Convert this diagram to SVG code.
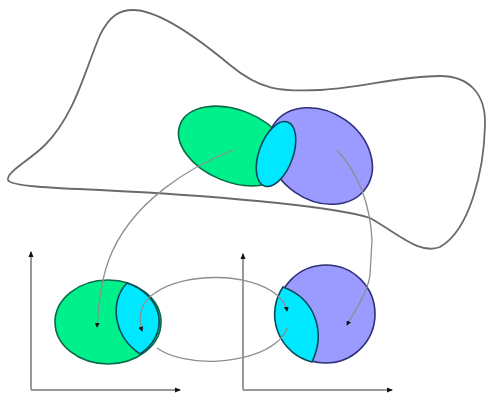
<svg xmlns="http://www.w3.org/2000/svg" width="488" height="394" viewBox="0 0 488 394">
<style>
.green{fill:#00f08c;stroke:#0a6a48;stroke-width:1.6}
.purple{fill:#9a9aff;stroke:#30307a;stroke-width:1.6}
.cyan{fill:#00e8ff;stroke:#0a4a5a;stroke-width:1.6}
.map{fill:none;stroke:#8e8e8e;stroke-width:1.3}
.axis{fill:none;stroke:#9a9a9a;stroke-width:2}
.outline{fill:none;stroke:#6a6a6a;stroke-width:1.8}
</style>
<defs>
<marker id="ah" viewBox="0 0 6 6" refX="5" refY="3" markerWidth="5" markerHeight="5" orient="auto-start-reverse" markerUnits="userSpaceOnUse">
<path d="M0,0 L6,3 L0,6 Z" fill="#111"/>
</marker>
<marker id="axh" viewBox="0 0 6 6" refX="5" refY="3" markerWidth="6" markerHeight="6" orient="auto" markerUnits="userSpaceOnUse">
<path d="M0,0.5 L6,3 L0,5.5 Z" fill="#111"/>
</marker>
</defs>
<g id="manifold">
<path class="outline" d="M133,10 C160,10 200,40 230,65 C260,90 280,92 320,90 C360,88 400,76 440,76 C470,76 486,95 485,125 C484,170 470,230 440,247 C420,255 400,235 370,218 C330,205 200,195 100,190 C50,188 10,186 8,180 C6,172 30,160 45,145 C75,115 85,70 100,35 C110,15 120,10 133,10 Z"/>
</g>
<g id="topCharts">
<ellipse id="U" class="green" cx="234" cy="146" rx="58" ry="36" transform="rotate(22 234 146)"/>
<ellipse id="V" class="purple" cx="320" cy="156" rx="56" ry="44" transform="rotate(35 320 156)"/>
<ellipse id="UV" class="cyan" cx="276" cy="154" rx="17" ry="34" transform="rotate(20 276 154)"/>
</g>
<g id="axesLeft">
<line class="axis" x1="31" y1="390" x2="31" y2="252" marker-end="url(#axh)"/>
<line class="axis" x1="31" y1="390" x2="180" y2="390" marker-end="url(#axh)"/>
</g>
<g id="axesRight">
<line class="axis" x1="243" y1="390" x2="243" y2="254" marker-end="url(#axh)"/>
<line class="axis" x1="243" y1="390" x2="392" y2="390" marker-end="url(#axh)"/>
</g>
<g id="chartLeft">
<ellipse class="green" cx="108" cy="322" rx="53" ry="42"/>
<path class="cyan" d="M127,283 C110,300 112,335 140,354 A53,42 0 0 0 127,283 Z"/>
</g>
<g id="chartRight">
<circle class="purple" cx="326" cy="314" r="49"/>
<path class="cyan" d="M283,287 C318,300 325,335 312,362 A49,49 0 0 1 283,287 Z"/>
</g>
<g id="connectors">
<path class="map" d="M233,150 C195,165 130,200 108,262 C100,285 98,310 97,327" marker-end="url(#ah)"/>
<path class="map" d="M337,150 C355,170 370,200 372,240 L370,275 C368,292 355,310 347,325" marker-end="url(#ah)"/>
<path class="map" d="M142,331 C138,318 140,302 155,293 C185,272 250,272 277,295 C283,300 286,305 287,311" marker-start="url(#ah)" marker-end="url(#ah)"/>
<path class="map" d="M288,327 C285,334 282,338 277,342 C250,365 185,368 157,348"/>
</g>
</svg>
